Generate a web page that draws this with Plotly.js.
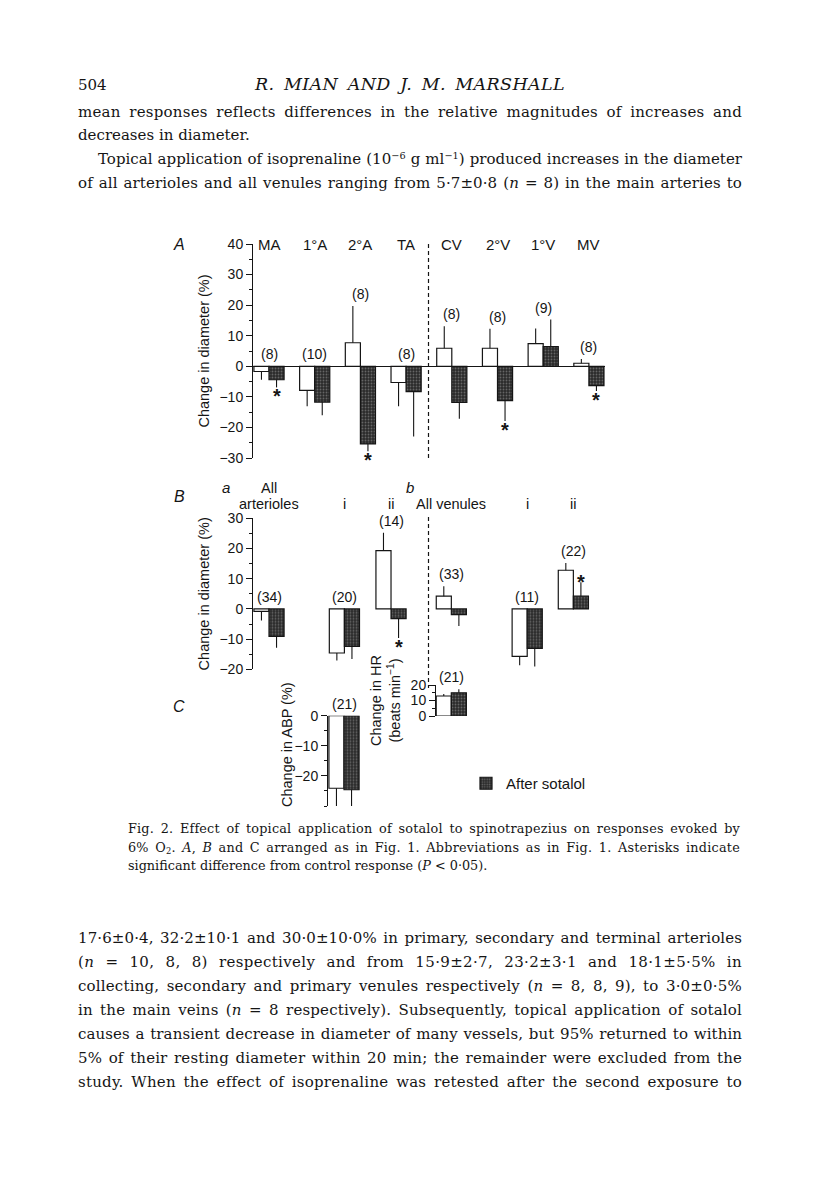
<!DOCTYPE html>
<html>
<head>
<meta charset="utf-8">
<script src="https://cdn.plot.ly/plotly-3.0.1.min.js"></script>
<style>
  body { margin: 0; background: #fff; }
  #page { position: relative; width: 816px; height: 1185px; overflow: hidden; }
  #chart { position: absolute; left: 0; top: 0; width: 816px; height: 1185px; }
  .txt { position: absolute; font-family: "DejaVu Serif", "Liberation Serif", serif; color: #151515; white-space: nowrap; }
  .body { left: 78px; width: 664px; font-size: 15px; line-height: 24px; height: 24px; }
  .cap { left: 128px; width: 612px; font-size: 12.8px; line-height: 18.5px; height: 18.5px; }
  sup, sub { font-size: 0.65em; line-height: 0; }
  sup { vertical-align: 0.5em; }
  sub { vertical-align: -0.25em; }
</style>
</head>
<body>
<div id="page">
  <div id="chart"></div>

  <div class="txt" style="left:78px; top:73px; font-size:15px; line-height:24px;">504</div>
  <div class="txt j" data-w="310" style="left:255px; top:72px; font-size:17.5px; line-height:24px; font-style:italic;">R. MIAN AND J. M. MARSHALL</div>

  <div class="txt body j" data-w="664" style="top:100px;">mean responses reflects differences in the relative magnitudes of increases and</div>
  <div class="txt body" style="top:123px;">decreases in diameter.</div>
  <div class="txt body j" data-w="644" style="top:147px; left:98px; width:644px;">Topical application of isoprenaline (10<sup>−6</sup> g ml<sup>−1</sup>) produced increases in the diameter</div>
  <div class="txt body j" data-w="664" style="top:171px;">of all arterioles and all venules ranging from 5·7±0·8 (<i>n</i> = 8) in the main arteries to</div>

  <div class="txt cap j" data-w="612" style="top:820px;">Fig. 2. Effect of topical application of sotalol to spinotrapezius on responses evoked by</div>
  <div class="txt cap j" data-w="612" style="top:839px;">6% O<sub>2</sub>. <i>A</i>, <i>B</i> and C arranged as in Fig. 1. Abbreviations as in Fig. 1. Asterisks indicate</div>
  <div class="txt cap" style="top:857px;">significant difference from control response (<i>P</i> &lt; 0·05).</div>

  <div class="txt body j" data-w="664" style="top:926px;">17·6±0·4, 32·2±10·1 and 30·0±10·0% in primary, secondary and terminal arterioles</div>
  <div class="txt body j" data-w="664" style="top:950px;">(<i>n</i> = 10, 8, 8) respectively and from 15·9±2·7, 23·2±3·1 and 18·1±5·5% in</div>
  <div class="txt body j" data-w="664" style="top:974px;">collecting, secondary and primary venules respectively (<i>n</i> = 8, 8, 9), to 3·0±0·5%</div>
  <div class="txt body j" data-w="664" style="top:998px;">in the main veins (<i>n</i> = 8 respectively). Subsequently, topical application of sotalol</div>
  <div class="txt body j" data-w="664" style="top:1022px;">causes a transient decrease in diameter of many vessels, but 95% returned to within</div>
  <div class="txt body j" data-w="664" style="top:1046px;">5% of their resting diameter within 20 min; the remainder were excluded from the</div>
  <div class="txt body j" data-w="664" style="top:1070px;">study. When the effect of isoprenaline was retested after the second exposure to</div>
</div>

<script>
// Fig. 2 - responses to 6% O2 before and after sotalol

// A: individual vessel types
const aCats = ['MA', '1°A', '2°A', 'TA', 'CV', '2°V', '1°V', 'MV'];
const aControl = [-1.7, -7.9, 7.7, -5.3, 5.9, 5.9, 7.4, 1.0];
const aControlSem = [2.7, 5.2, 12.0, 7.8, 7.2, 6.4, 5.0, 1.4];
const aSotalol = [-4.4, -11.7, -25.4, -8.3, -11.8, -11.2, 6.4, -6.3];
const aSotalolSem = [2.5, 4.3, 2.4, 14.7, 5.4, 6.7, 8.9, 1.8];
const aN = [8, 10, 8, 8, 8, 8, 9, 8];
const aSig = [true, false, true, false, false, true, false, true];

// B: pooled arterioles / venules, i = constrictors, ii = dilators
const bCats = ['All<br>arterioles', 'i', 'ii', 'All venules', 'i', 'ii'];
const bControl = [-0.8, -14.6, 19.3, 4.2, -15.7, 12.8];
const bControlSem = [3.0, 2.5, 5.9, 3.3, 3.0, 2.4];
const bSotalol = [-9.1, -12.4, -3.2, -1.9, -13.1, 4.2];
const bSotalolSem = [3.8, 4.2, 6.4, 3.8, 6.0, 4.6];
const bN = [34, 20, 14, 33, 11, 22];
const bSig = [false, false, true, false, false, true];

// C: arterial blood pressure and heart rate
const abpControl = [-24.1];
const abpControlSem = [5.9];
const abpSotalol = [-24.6];
const abpSotalolSem = [5.4];
const abpN = [21];
const hrControl = [12.9];
const hrControlSem = [1.3];
const hrSotalol = [15.0];
const hrSotalolSem = [2.2];
const hrN = [21];

// stretch each justified text line to its measure
document.querySelectorAll('.j').forEach(el => {
    const target = +el.dataset.w;
    const span = document.createElement('span');
    span.innerHTML = el.innerHTML;
    span.style.display = 'inline-block';
    el.innerHTML = '';
    el.appendChild(span);
    const text = span.textContent;
    const spaces = (text.match(/ /g) || []).length;
    let w = span.getBoundingClientRect().width;
    const extra = target - w;
    if (extra < 0 || !spaces) {
        span.style.letterSpacing = (extra / text.length) + 'px';
    } else {
        span.style.letterSpacing = Math.min(0.35, extra * 0.35 / text.length) + 'px';
        w = span.getBoundingClientRect().width;
        span.style.wordSpacing = ((target - w) / spaces) + 'px';
    }
});

// page geometry (pixels) -> paper fractions
const W = 816, H = 1185;
const xd = p => p / W;
const yd = p => 1 - p / H;
const UNIT = 45.7;        // px per category slot
const BW = 0.33;          // bar width in slots
const aSlots = aCats.map((c, i) => i);
const bSlots = [0, 1.65, 2.67, 3.99, 5.65, 6.66];

const SANS = 'Liberation Sans, Arial, sans-serif';
const INK = '#151515';

function upErr(v, e) { return v.map((d, i) => d >= 0 ? e[i] : 0); }
function downErr(v, e) { return v.map((d, i) => d < 0 ? e[i] : 0); }

function barPair(xs, ctrl, ctrlSem, sot, sotSem, xa, ya, showLeg) {
    const err = (v, e) => ({
        type: 'data', symmetric: false,
        array: upErr(v, e), arrayminus: downErr(v, e),
        color: INK, thickness: 1.1, width: 0
    });
    return [
        {
            type: 'bar', name: 'Control', x: xs, y: ctrl, xaxis: xa, yaxis: ya,
            width: BW, offset: -BW, showlegend: false,
            marker: { color: '#ffffff', line: { color: INK, width: 1.2 } },
            error_y: err(ctrl, ctrlSem)
        },
        {
            type: 'bar', name: 'After sotalol', x: xs, y: sot, xaxis: xa, yaxis: ya,
            width: BW, offset: 0, showlegend: showLeg,
            marker: {
                color: '#2a2a2a', line: { color: INK, width: 1.2 },
                pattern: { shape: '.', fgcolor: '#a0a0a0', size: 3, solidity: 0.3, fillmode: 'overlay' }
            },
            error_y: err(sot, sotSem)
        }
    ];
}

const traces = [].concat(
    barPair(aSlots, aControl, aControlSem, aSotalol, aSotalolSem, 'x', 'y', false),
    barPair(bSlots, bControl, bControlSem, bSotalol, bSotalolSem, 'x2', 'y2', false),
    barPair([0], abpControl, abpControlSem, abpSotalol, abpSotalolSem, 'x3', 'y3', false),
    barPair([0], hrControl, hrControlSem, hrSotalol, hrSotalolSem, 'x4', 'y4', true)
);

// annotations: n numbers and asterisks
const annotations = [];
function addLabels(xs, ctrl, ctrlSem, sot, sotSem, n, sig, xa, ya) {
    xs.forEach((x, i) => {
        const top = Math.max(0,
            ctrl[i] > 0 ? ctrl[i] + ctrlSem[i] : 0,
            sot[i] > 0 ? sot[i] + sotSem[i] : 0);
        annotations.push({
            xref: xa, yref: ya, x: x, y: top, text: '(' + n[i] + ')',
            showarrow: false, yanchor: 'middle', yshift: 12,
            font: { family: SANS, size: 14, color: INK }
        });
        if (sig && sig[i]) {
            const neg = sot[i] < 0;
            annotations.push({
                xref: xa, yref: ya, x: x + BW / 2,
                y: neg ? sot[i] - sotSem[i] : sot[i] + sotSem[i],
                text: '<b>*</b>', showarrow: false, yanchor: 'middle', yshift: neg ? -9 : 0,
                font: { family: SANS, size: 20, color: INK }
            });
        }
    });
}
addLabels(aSlots, aControl, aControlSem, aSotalol, aSotalolSem, aN, aSig, 'x', 'y');
addLabels(bSlots, bControl, bControlSem, bSotalol, bSotalolSem, bN, bSig, 'x2', 'y2');
addLabels([0], abpControl, abpControlSem, abpSotalol, abpSotalolSem, abpN, null, 'x3', 'y3');
addLabels([0], hrControl, hrControlSem, hrSotalol, hrSotalolSem, hrN, null, 'x4', 'y4');

// vessel names above panel A
aCats.forEach((c, i) => {
    annotations.push({
        xref: 'x', yref: 'paper', x: aSlots[i], y: yd(244), text: c,
        showarrow: false, yanchor: 'middle',
        font: { family: SANS, size: 15, color: INK }
    });
});

// group headings of panel B (one annotation per line, set tight)
bCats.forEach((c, i) => {
    const lines = c.split('<br>');
    lines.forEach((t, k) => {
        annotations.push({
            xref: 'x2', yref: 'paper', x: bSlots[i], y: yd(504 - 16 * (lines.length - 1 - k)), text: t,
            showarrow: false, yanchor: 'middle', borderpad: 0,
            font: { family: SANS, size: 14.5, color: INK }
        });
    });
});

function note(text, x, y, size, angle) {
    annotations.push({
        xref: 'paper', yref: 'paper', x: xd(x), y: yd(y), text: text,
        showarrow: false, xanchor: 'center', yanchor: 'middle', textangle: angle || 0,
        font: { family: SANS, size: size, color: INK }
    });
}
note('<i>A</i>', 179, 244, 16);
note('<i>B</i>', 179, 497, 16);
note('<i>C</i>', 179, 706, 16);
note('<i>a</i>', 226, 487, 15);
note('<i>b</i>', 410, 487, 15);
note('Change in ABP (%)', 287, 745, 14.5, -90);

function yAxis(domTop, domBot, range, title, extra) {
    const ax = {
        domain: [yd(domBot), yd(domTop)], range: range,
        showline: true, linecolor: INK, linewidth: 1,
        ticks: 'outside', ticklen: 6, tickwidth: 1, tickcolor: INK, dtick: 10,
        minor: { dtick: 5, ticks: 'outside', ticklen: 3, tickwidth: 1, tickcolor: INK },
        showgrid: false, zeroline: false, fixedrange: true,
        tickfont: { family: SANS, size: 14, color: INK }
    };
    if (title) {
        ax.title = { text: title, font: { family: SANS, size: 14.5, color: INK }, standoff: 6 };
    }
    return Object.assign(ax, extra || {});
}
function xAxis(left, right, lo, hi) {
    return {
        domain: [xd(left), xd(right)], range: [lo, hi],
        visible: false, showgrid: false, zeroline: false, fixedrange: true
    };
}
const slot = (px, centre) => (px - centre) / UNIT;

const layout = {
    width: W, height: H,
    margin: { l: 0, r: 0, t: 0, b: 0 },
    paper_bgcolor: '#ffffff', plot_bgcolor: 'rgba(0,0,0,0)',
    barmode: 'overlay',
    showlegend: true,
    legend: {
        x: xd(466), y: yd(767), xanchor: 'left', yanchor: 'top',
        bgcolor: 'rgba(0,0,0,0)', borderwidth: 0,
        font: { family: SANS, size: 15, color: INK }
    },
    xaxis: xAxis(253, 605, slot(253, 269), slot(605, 269)),
    yaxis: yAxis(244, 458, [-30, 40], 'Change in diameter (%)',
        { anchor: 'x', zeroline: true, zerolinecolor: INK, zerolinewidth: 1.2 }),
    xaxis2: xAxis(253, 595, slot(253, 269), slot(595, 269)),
    yaxis2: yAxis(518.3, 669.3, [-20, 30], 'Change in diameter (%)', { anchor: 'x2' }),
    xaxis3: xAxis(328, 366, slot(328, 344), slot(366, 344)),
    yaxis3: yAxis(715.7, 806, [-30, 0], null, { anchor: 'x3', tickvals: [0, -10, -20] }),
    xaxis4: xAxis(436, 470, slot(436, 451.3), slot(470, 451.3)),
    yaxis4: yAxis(685, 716, [0, 20], 'Change in HR<br>(beats min<sup>−1</sup>)', { anchor: 'x4' }),
    shapes: [
        { type: 'line', xref: 'paper', yref: 'paper', x0: xd(428.5), x1: xd(428.5), y0: yd(244), y1: yd(458),
          line: { color: INK, width: 1.2, dash: '4px,3px' } },
        { type: 'line', xref: 'paper', yref: 'paper', x0: xd(428.5), x1: xd(428.5), y0: yd(517), y1: yd(688),
          line: { color: INK, width: 1.2, dash: '4px,3px' } }
    ],
    annotations: annotations
};

Plotly.newPlot('chart', traces, layout, { displayModeBar: false, staticPlot: true });
</script>
</body>
</html>
